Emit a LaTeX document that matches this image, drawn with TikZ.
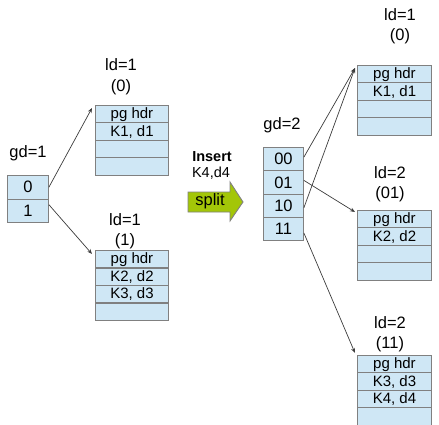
\documentclass[tikz,border=0pt]{standalone}
\usepackage{fontspec}
\setmainfont{Liberation Sans}
\usetikzlibrary{arrows.meta,calc}
\definecolor{cellfill}{RGB}{207,231,245}
\definecolor{cellline}{RGB}{128,128,128}
\definecolor{splitfill}{RGB}{163,198,8}
\definecolor{linkcol}{RGB}{60,60,60}
\tikzset{
  cell/.style={draw=cellline, fill=cellfill, line width=0.9pt, rectangle, inner sep=0pt, anchor=north west, font=\fontsize{15}{16}\selectfont},
  bcell/.style={cell, minimum width=74pt, minimum height=17.4pt},
  dcell/.style={cell, minimum width=40pt, minimum height=23.3pt, font=\fontsize{16.5}{18}\selectfont},
  lbl/.style={inner sep=0pt, font=\fontsize{16.5}{18}\selectfont},
  link/.style={draw=linkcol, line width=0.7pt, -{Stealth[length=5pt,width=4pt]}}
}
\begin{document}
\begin{tikzpicture}[x=1pt,y=-1pt]
\useasboundingbox (0,0) rectangle (439,425);
% left directory
\node[lbl] (gd1) at (28,153) {gd=1};
\node[dcell, minimum width=41pt, minimum height=23.5pt] (d0) at (7,175) {0};
\node[dcell, minimum width=41pt, minimum height=23.5pt] (d1) at (7,198.5) {1};
% left bucket 0
\node[lbl] (la0) at (121,65) {ld=1};
\node[lbl] (la0b) at (121,87) {(0)};
\node[bcell, minimum width=73pt] (a1) at (95,105) {pg hdr};
\node[bcell, minimum width=73pt] (a2) at (95,122.5) {K1, d1};
\node[bcell, minimum width=73pt] (a3) at (95,140) {};
\node[bcell, minimum width=73pt] (a4) at (95,157.5) {};
% left bucket 1
\node[lbl] (lb0) at (125,220) {ld=1};
\node[lbl] (lb0b) at (125,241) {(1)};
\node[bcell, minimum width=73pt] (b1) at (95,250) {pg hdr};
\node[bcell, minimum width=73pt] (b2) at (95,267.5) {K2, d2};
\node[bcell, minimum width=73pt] (b3) at (95,285) {K3, d3};
\node[bcell, minimum width=73pt] (b4) at (95,302.5) {};
% left links
\coordinate (ina) at ($(a1.north west)+(-3,3)$);
\coordinate (inb) at ($(b1.north west)+(-3,4)$);
\draw[link] (d0.east) -- (ina);
\draw[link] ($(d1.east)+(0,-6)$) -- (inb);
% insert / split
\node[inner sep=0pt, font=\fontsize{14.5}{16}\selectfont\bfseries] (ins) at (212,157) {Insert};
\node[inner sep=0pt, font=\fontsize{14.5}{16}\selectfont] (k4) at (211,173) {K4,d4};
\draw[draw=cellline, fill=splitfill, line width=0.9pt] (188,192) -- (230,192) -- (230,182) -- (243,202) -- (230,221) -- (230,212) -- (188,212) -- cycle;
\node[lbl] (split) at (210,201) {split};
% right directory
\node[lbl] (gd2) at (282,125) {gd=2};
\node[dcell] (r0) at (263,147) {00};
\node[dcell] (r1) at (263,170.3) {01};
\node[dcell] (r2) at (263,193.6) {10};
\node[dcell] (r3) at (263,216.9) {11};
% right bucket A
\node[lbl] (ra) at (400,15) {ld=1};
\node[lbl] (rab) at (400,36) {(0)};
\node[bcell] (A1) at (357,65) {pg hdr};
\node[bcell] (A2) at (357,82.4) {K1, d1};
\node[bcell] (A3) at (357,99.8) {};
\node[bcell] (A4) at (357,117.2) {};
% right bucket B
\node[lbl] (rb) at (390,173) {ld=2};
\node[lbl] (rbb) at (390,194) {(01)};
\node[bcell] (B1) at (357,210) {pg hdr};
\node[bcell] (B2) at (357,227.4) {K2, d2};
\node[bcell] (B3) at (357,244.8) {};
\node[bcell] (B4) at (357,262.2) {};
% right bucket C
\node[lbl] (rc) at (390,323) {ld=2};
\node[lbl] (rcb) at (390,344) {(11)};
\node[bcell] (C1) at (357,355) {pg hdr};
\node[bcell] (C2) at (357,372.4) {K3, d3};
\node[bcell] (C3) at (357,389.8) {K4, d4};
\node[bcell] (C4) at (357,407.2) {};
% right links
\coordinate (inA) at ($(A1.north west)+(-2,3)$);
\coordinate (inB) at ($(B1.north west)+(-2,2)$);
\coordinate (inC) at ($(C1.north west)+(-2,-2)$);
\draw[link] ($(r0.east)+(0,-2)$) -- (inA);
\draw[link] ($(r1.east)+(0,-2)$) -- (inB);
\draw[link] ($(r2.east)+(0,2)$) -- (inA);
\draw[link] ($(r3.east)+(0,4)$) -- (inC);
\end{tikzpicture}
\end{document}
